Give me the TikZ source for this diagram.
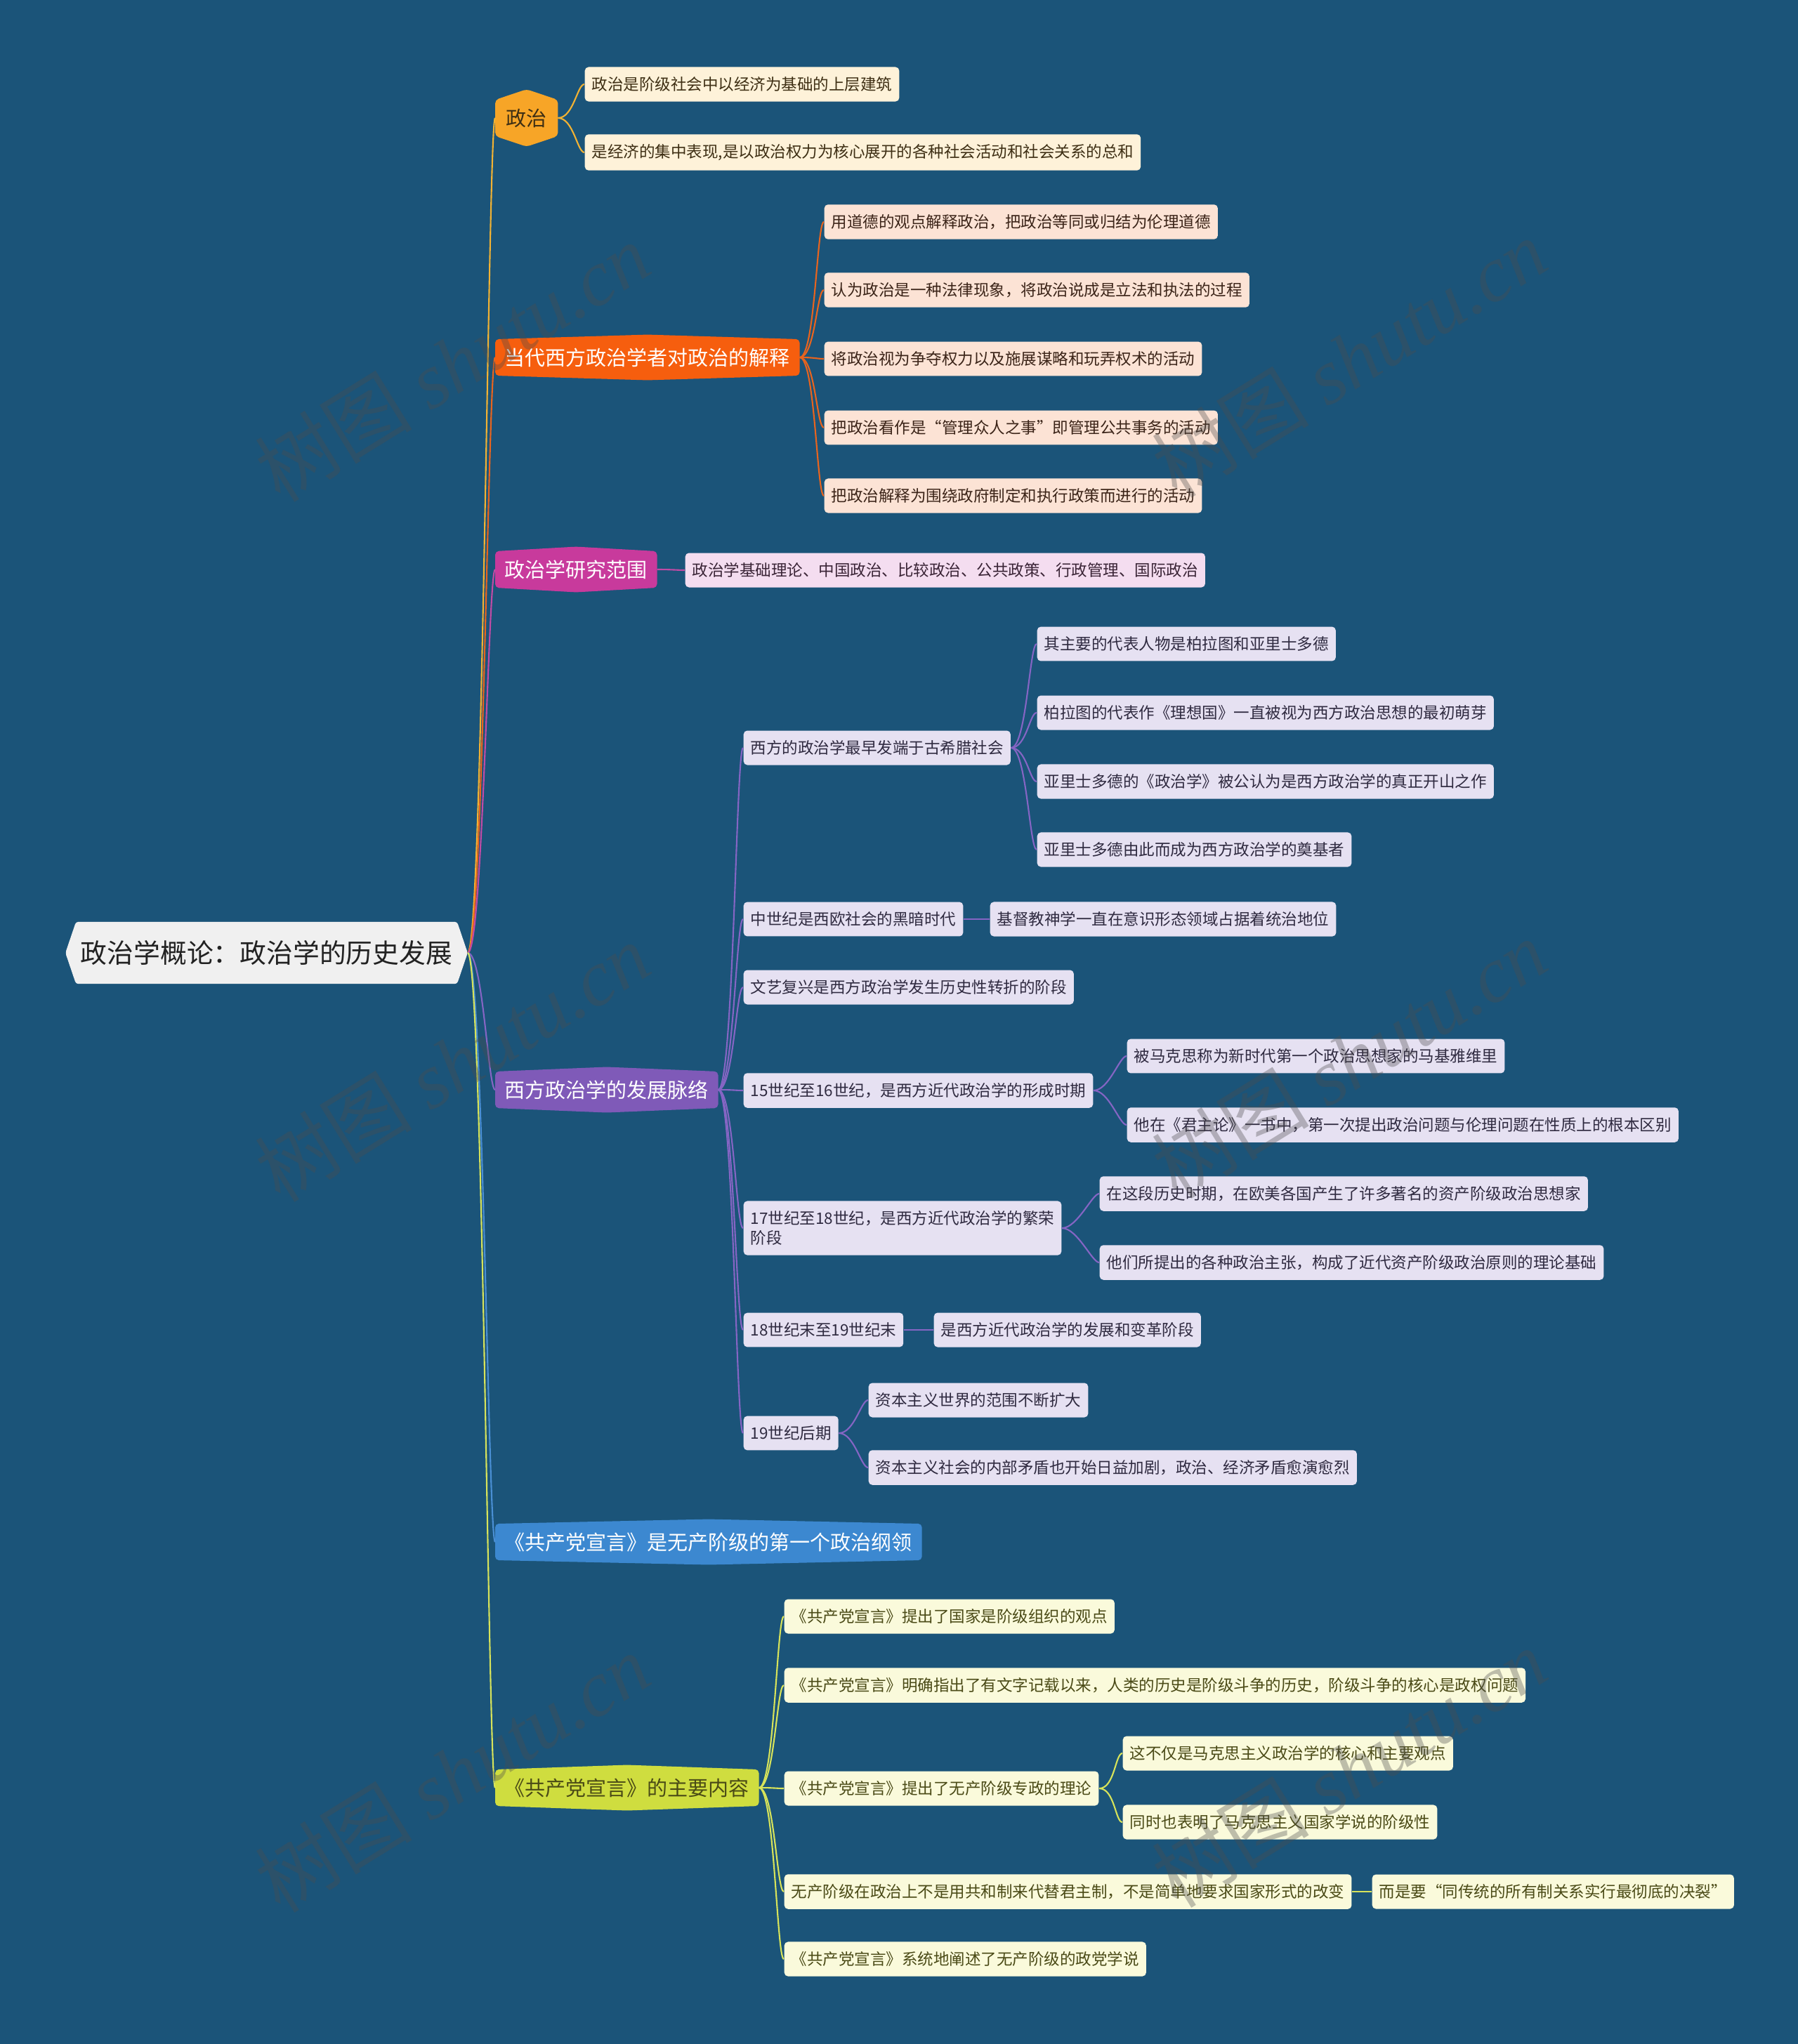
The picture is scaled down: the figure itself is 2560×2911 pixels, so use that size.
\documentclass[tikz,border=0pt]{standalone}
\usepackage{fontspec}
\setmainfont{Noto Sans CJK SC}
\newfontfamily\stampserif{Liberation Serif}
\usetikzlibrary{positioning,calc}

\definecolor{paper}   {HTML}{1B5479}
\definecolor{rootfill}{HTML}{F0F0F0}
\definecolor{rootink} {HTML}{222222}
\definecolor{amber}   {HTML}{F7A527}
\definecolor{amberpale}{HTML}{FEF2D9}
\definecolor{amberink}{HTML}{3E2F14}
\definecolor{amberline}{HTML}{F2B233}
\definecolor{flame}   {HTML}{F65E0E}
\definecolor{flamepale}{HTML}{FCE3D5}
\definecolor{flameink}{HTML}{3B2418}
\definecolor{flameline}{HTML}{E8641E}
\definecolor{orchid}  {HTML}{C83A9C}
\definecolor{orchidpale}{HTML}{F4DDF0}
\definecolor{orchidink}{HTML}{3A2436}
\definecolor{orchidline}{HTML}{C04BA5}
\definecolor{violet}  {HTML}{7F5AB8}
\definecolor{violetpale}{HTML}{E6E1F2}
\definecolor{violetink}{HTML}{2F2A40}
\definecolor{violetline}{HTML}{8565C4}
\definecolor{azure}   {HTML}{3C88D0}
\definecolor{azureline}{HTML}{4A8FD4}
\definecolor{lime}    {HTML}{CFDD3F}
\definecolor{limepale}{HTML}{FAFADB}
\definecolor{limeink} {HTML}{4A4A16}
\definecolor{limeline}{HTML}{D7E35A}

\pgfdeclarelayer{canvas}
\pgfdeclarelayer{shape}
\pgfsetlayers{canvas,shape,main}

\tikzset{
  rootbox/.style={text=rootink,font=\fontsize{10.75pt}{12pt}\selectfont,
                  inner xsep=0pt,minimum width=5.41cm,minimum height=0.87cm},
  topic/.style={anchor=west,inner xsep=0.13cm,minimum height=0.48cm,
                font=\fontsize{8.25pt}{10pt}\selectfont},
  leaf/.style={anchor=west,rounded corners=1.5pt,inner xsep=0.1cm,
               inner ysep=0.14cm,minimum height=0.48cm,align=left,
               font=\fontsize{6.4pt}{8pt}\selectfont},
  amberleaf/.style={leaf,fill=amberpale,text=amberink},
  flameleaf/.style={leaf,fill=flamepale,text=flameink},
  orchidleaf/.style={leaf,fill=orchidpale,text=orchidink},
  violetleaf/.style={leaf,fill=violetpale,text=violetink},
  limeleaf/.style={leaf,fill=limepale,text=limeink},
  link/.style={line width=0.6pt},
  stamp/.style={rotate=31.7,text=gray!60!black,opacity=0.35,
                font=\fontsize{32pt}{34pt}\selectfont}
}

% hexagon behind a topic node: colour, node, height of the point
\newcommand\hexfill[3]{%
  \begin{pgfonlayer}{shape}
    \fill[#1,rounded corners=1.5pt] (#2.north west) -- ([yshift=#3]#2.north)
      -- (#2.north east) -- (#2.south east) -- ([yshift=-#3]#2.south)
      -- (#2.south west) -- cycle;
  \end{pgfonlayer}}
% connector: colour, start point, target node
\newcommand\branch[3]{%
  \draw[link,#1] (#2) .. controls +(22,0) and +(-10,0) .. (#3.west);}

\begin{document}
\begin{tikzpicture}[x=0.01cm,y=-0.01cm]
  \begin{pgfonlayer}{canvas}
    \fill[paper] (0,0) rectangle (2560,2911);
  \end{pgfonlayer}
  \useasboundingbox (0,0) rectangle (2560,2911);

  % root
  \node[rootbox] (root) at (379.5,1357) {政治学概论：政治学的历史发展};
  \begin{pgfonlayer}{shape}
    \fill[rootfill,rounded corners=1pt] ([xshift=-0.15cm]root.west)
      -- (root.north west) -- (root.north east) -- ([xshift=0.15cm]root.east)
      -- (root.south east) -- (root.south west) -- cycle;
  \end{pgfonlayer}
  \coordinate (roottip) at ([xshift=0.15cm]root.east);

  % main topics
  \node[topic,text=amberink,inner xsep=0.15cm,minimum height=0.35cm] (zz) at (705,168) {政治};
  \node[topic,text=white] (jd) at (705,509) {当代西方政治学者对政治的解释};
  \node[topic,text=white] (fw) at (705,811) {政治学研究范围};
  \node[topic,text=white] (ml) at (705,1552) {西方政治学的发展脉络};
  \node[topic,text=white] (gl) at (705,2196) {《共产党宣言》是无产阶级的第一个政治纲领};
  \node[topic,text=limeink] (nr) at (705,2546) {《共产党宣言》的主要内容};
  \hexfill{amber}{zz}{0.15cm}
  \hexfill{flame}{jd}{0.065cm}
  \hexfill{orchid}{fw}{0.065cm}
  \hexfill{violet}{ml}{0.065cm}
  \hexfill{azure}{gl}{0.065cm}
  \hexfill{lime}{nr}{0.065cm}

  \branch{amberline}{roottip}{zz}
  \branch{flameline}{roottip}{jd}
  \branch{orchidline}{roottip}{fw}
  \branch{violetline}{roottip}{ml}
  \branch{azureline}{roottip}{gl}
  \branch{limeline}{roottip}{nr}

  % 政治
  \node[amberleaf] (zz1) at (832,120) {政治是阶级社会中以经济为基础的上层建筑};
  \node[amberleaf] (zz2) at (832,217) {是经济的集中表现,是以政治权力为核心展开的各种社会活动和社会关系的总和};
  \foreach \k in {zz1,zz2} {\branch{amberline}{zz.east}{\k}}

  % 当代西方政治学者对政治的解释
  \node[flameleaf] (jd1) at (1173,316) {用道德的观点解释政治，把政治等同或归结为伦理道德};
  \node[flameleaf] (jd2) at (1173,413) {认为政治是一种法律现象，将政治说成是立法和执法的过程};
  \node[flameleaf] (jd3) at (1173,511) {将政治视为争夺权力以及施展谋略和玩弄权术的活动};
  \node[flameleaf] (jd4) at (1173,609) {把政治看作是“管理众人之事”即管理公共事务的活动};
  \node[flameleaf] (jd5) at (1173,706) {把政治解释为围绕政府制定和执行政策而进行的活动};
  \foreach \k in {jd1,jd2,jd3,jd4,jd5} {\branch{flameline}{jd.east}{\k}}

  % 政治学研究范围
  \node[orchidleaf] (fw1) at (975,812) {政治学基础理论、中国政治、比较政治、公共政策、行政管理、国际政治};
  \branch{orchidline}{fw.east}{fw1}

  % 西方政治学的发展脉络
  \node[violetleaf] (ml1) at (1058,1065) {西方的政治学最早发端于古希腊社会};
  \node[violetleaf] (ml2) at (1058,1309) {中世纪是西欧社会的黑暗时代};
  \node[violetleaf] (ml3) at (1058,1406) {文艺复兴是西方政治学发生历史性转折的阶段};
  \node[violetleaf] (ml4) at (1058,1553) {15世纪至16世纪，是西方近代政治学的形成时期};
  \node[violetleaf] (ml5) at (1058,1749) {17世纪至18世纪，是西方近代政治学的繁荣\\阶段};
  \node[violetleaf] (ml6) at (1058,1894) {18世纪末至19世纪末};
  \node[violetleaf] (ml7) at (1058,2041) {19世纪后期};
  \foreach \k in {ml1,ml2,ml3,ml4,ml5,ml6,ml7} {\branch{violetline}{ml.east}{\k}}

  \node[violetleaf] (ml1a) at (1476,917) {其主要的代表人物是柏拉图和亚里士多德};
  \node[violetleaf] (ml1b) at (1476,1015) {柏拉图的代表作《理想国》一直被视为西方政治思想的最初萌芽};
  \node[violetleaf] (ml1c) at (1476,1113) {亚里士多德的《政治学》被公认为是西方政治学的真正开山之作};
  \node[violetleaf] (ml1d) at (1476,1210) {亚里士多德由此而成为西方政治学的奠基者};
  \foreach \k in {ml1a,ml1b,ml1c,ml1d} {\branch{violetline}{ml1.east}{\k}}

  \node[violetleaf] (ml2a) at (1409,1309) {基督教神学一直在意识形态领域占据着统治地位};
  \branch{violetline}{ml2.east}{ml2a}

  \node[violetleaf] (ml4a) at (1604,1504) {被马克思称为新时代第一个政治思想家的马基雅维里};
  \node[violetleaf] (ml4b) at (1604,1602) {他在《君主论》一书中，第一次提出政治问题与伦理问题在性质上的根本区别};
  \foreach \k in {ml4a,ml4b} {\branch{violetline}{ml4.east}{\k}}

  \node[violetleaf] (ml5a) at (1565,1700) {在这段历史时期，在欧美各国产生了许多著名的资产阶级政治思想家};
  \node[violetleaf] (ml5b) at (1565,1798) {他们所提出的各种政治主张，构成了近代资产阶级政治原则的理论基础};
  \foreach \k in {ml5a,ml5b} {\branch{violetline}{ml5.east}{\k}}

  \node[violetleaf] (ml6a) at (1329,1894) {是西方近代政治学的发展和变革阶段};
  \branch{violetline}{ml6.east}{ml6a}

  \node[violetleaf] (ml7a) at (1236,1994) {资本主义世界的范围不断扩大};
  \node[violetleaf] (ml7b) at (1236,2090) {资本主义社会的内部矛盾也开始日益加剧，政治、经济矛盾愈演愈烈};
  \foreach \k in {ml7a,ml7b} {\branch{violetline}{ml7.east}{\k}}

  % 《共产党宣言》的主要内容
  \node[limeleaf] (nr1) at (1116,2302) {《共产党宣言》提出了国家是阶级组织的观点};
  \node[limeleaf] (nr2) at (1116,2400) {《共产党宣言》明确指出了有文字记载以来，人类的历史是阶级斗争的历史，阶级斗争的核心是政权问题};
  \node[limeleaf] (nr3) at (1116,2547) {《共产党宣言》提出了无产阶级专政的理论};
  \node[limeleaf] (nr4) at (1116,2694) {无产阶级在政治上不是用共和制来代替君主制，不是简单地要求国家形式的改变};
  \node[limeleaf] (nr5) at (1116,2790) {《共产党宣言》系统地阐述了无产阶级的政党学说};
  \foreach \k in {nr1,nr2,nr3,nr4,nr5} {\branch{limeline}{nr.east}{\k}}

  \node[limeleaf] (nr3a) at (1598,2497) {这不仅是马克思主义政治学的核心和主要观点};
  \node[limeleaf] (nr3b) at (1598,2595) {同时也表明了马克思主义国家学说的阶级性};
  \foreach \k in {nr3a,nr3b} {\branch{limeline}{nr3.east}{\k}}

  \node[limeleaf] (nr4a) at (1953,2694) {而是要“同传统的所有制关系实行最彻底的决裂”};
  \branch{limeline}{nr4.east}{nr4a}

  % watermark
  \foreach \wx/\wy in {644/516,1921/510,644/1513,1921/1508,644/2525,1921/2518}
    \node[stamp] at (\wx,\wy) {树图 {\stampserif\itshape shutu.cn}};
\end{tikzpicture}
\end{document}
